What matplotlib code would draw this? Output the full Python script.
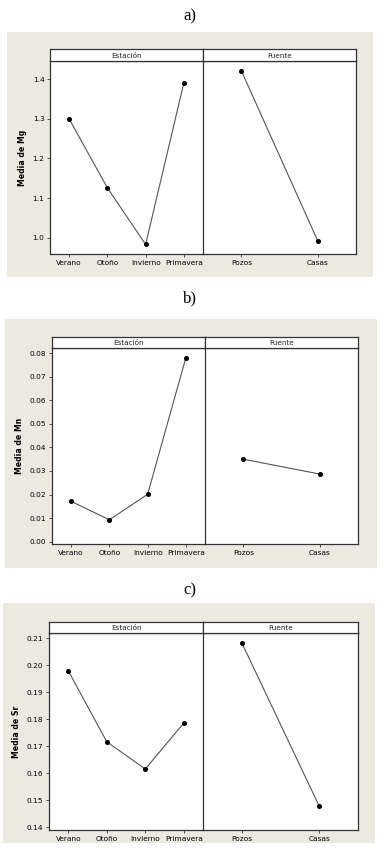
import matplotlib
matplotlib.use("Agg")
import matplotlib.pyplot as plt
from matplotlib.patches import Rectangle

# datos (medias)
estaciones = ["Verano", "Otoño", "Invierno", "Primavera"]
fuentes = ["Pozos", "Casas"]

mg_estacion = [1.300, 1.126, 0.983, 1.391]
mg_fuente = [1.422, 0.992]
mn_estacion = [0.0171, 0.0093, 0.0201, 0.0781]
mn_fuente = [0.0350, 0.0287]
sr_estacion = [0.1980, 0.1717, 0.1616, 0.1786]
sr_fuente = [0.2084, 0.1478]

mg_ticks = [1.0, 1.1, 1.2, 1.3, 1.4]
mn_ticks = [0.00, 0.01, 0.02, 0.03, 0.04, 0.05, 0.06, 0.07, 0.08]
sr_ticks = [0.14, 0.15, 0.16, 0.17, 0.18, 0.19, 0.20, 0.21]

W, H = 381, 858
fig = plt.figure(figsize=(W / 100, H / 100), dpi=100)
fig.patch.set_facecolor("white")

BG = "#ece9e0"
EDGE = "#333333"
LINE = "#555555"


def fbox(x0, y0, x1, y1):
    # pixel coords (top-left origin) -> figure fraction rect
    return [x0 / W, 1 - y1 / H, (x1 - x0) / W, (y1 - y0) / H]


def style(ax):
    for s in ax.spines.values():
        s.set_color(EDGE)
        s.set_linewidth(0.9)
    ax.tick_params(length=2.5, width=0.6, color=EDGE, labelsize=5.3, pad=1.5)


def panel(label, lab_y, grey, box, yvals, yfmt, ylim, ylabel, est, fue):
    gx0, gy0, gx1, gy1 = grey
    left, right, div, top, hb, bottom = box
    fig.text(190 / W, 1 - lab_y / H, label, ha="center", va="center",
             family="Liberation Serif", fontsize=12)
    fig.patches.append(Rectangle((gx0 / W, 1 - gy1 / H), (gx1 - gx0) / W,
                                 (gy1 - gy0) / H, transform=fig.transFigure,
                                 facecolor=BG, edgecolor="none", zorder=-5))

    ax1 = fig.add_axes(fbox(left, hb, div, bottom))
    ax2 = fig.add_axes(fbox(div, hb, right, bottom), sharey=ax1)
    for ax, cats, vals in [(ax1, estaciones, est), (ax2, fuentes, fue)]:
        xs = list(range(len(cats)))
        ax.plot(xs, vals, color=LINE, lw=0.8, marker="o", ms=2.6,
                mfc="black", mec="black", zorder=3)
        ax.set_xlim(-0.5, len(cats) - 0.5)
        ax.set_xticks(xs)
        ax.set_xticklabels(cats)
        style(ax)
    ax1.set_ylim(*ylim)
    ax1.set_yticks(yvals)
    ax1.set_yticklabels([yfmt.format(v) for v in yvals])
    ax1.set_ylabel(ylabel, fontsize=5.6, fontweight="bold", labelpad=4)
    ax2.tick_params(axis="y", left=False, labelleft=False)
    ax1.spines["right"].set_visible(False)

    # encabezados
    for x0, x1, txt in [(left, div, "Estación"), (div, right, "Fuente")]:
        hax = fig.add_axes(fbox(x0, top, x1, hb))
        hax.set_xticks([])
        hax.set_yticks([])
        style(hax)
        hax.text(0.5, 0.45, txt, ha="center", va="center", fontsize=5.2,
                 transform=hax.transAxes, color="#222222")


panel("a)", 16, (7, 32, 373, 277), (50, 356, 203, 49, 61, 254),
      mg_ticks, "{:.1f}", (0.959, 1.446), "Media de Mg", mg_estacion, mg_fuente)
panel("b)", 298, (5, 319, 377, 568), (52, 358, 205, 337, 348, 544),
      mn_ticks, "{:.2f}", (-0.0010, 0.0822), "Media de Mn", mn_estacion, mn_fuente)
panel("c)", 590, (3, 603, 375, 843), (49, 358, 203, 622, 633, 830),
      sr_ticks, "{:.2f}", (0.1390, 0.2120), "Media de Sr", sr_estacion, sr_fuente)

fig.savefig("out.png", dpi=100)
